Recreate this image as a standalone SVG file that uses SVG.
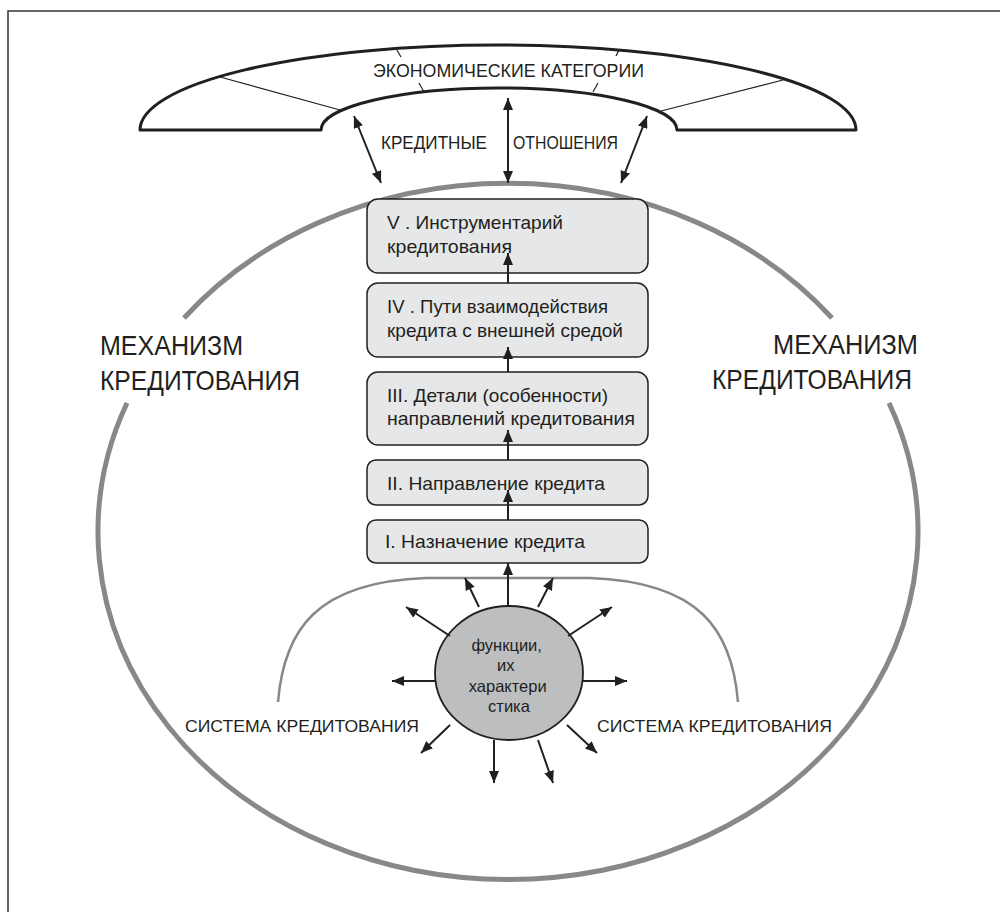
<svg xmlns="http://www.w3.org/2000/svg" width="1000" height="912" viewBox="0 0 1000 912">
<style>
.t{font-family:"Liberation Sans",Arial,sans-serif;fill:#231f20}
.box{fill:#e6e7e8;stroke:#231f20;stroke-width:1.5}
.ln{stroke:#231f20;stroke-width:2;fill:none}
.thin{stroke:#231f20;stroke-width:1.2;fill:none}
.gray{stroke:#87888a;fill:none}
</style>
<defs>
<marker id="ah" viewBox="0 0 12 10" refX="12" refY="5" markerWidth="12" markerHeight="10" markerUnits="userSpaceOnUse" orient="auto-start-reverse">
<path d="M0,0 L12,5 L0,10 Z" fill="#231f20"/>
</marker>
</defs>
<rect width="1000" height="912" fill="#fff"/>
<g id="frame">
<path d="M8,912 L8,11 L1000,11" fill="none" stroke="#333" stroke-width="1.5"/>
</g>
<g id="categories">
<path d="M140,130 A358,85 0 0 1 856,130 L677,130 A178,42 0 0 0 321,130 Z" fill="#fff" stroke="#231f20" stroke-width="3" stroke-linejoin="round"/>
<line class="thin" x1="220" y1="77" x2="340" y2="110"/>
<line class="thin" x1="783" y1="80" x2="661" y2="111"/>
<line class="thin" x1="397" y1="50" x2="401" y2="57"/>
<line class="thin" x1="619" y1="50" x2="616" y2="56"/>
<line class="thin" x1="419" y1="83" x2="424" y2="92"/>
<line class="thin" x1="598" y1="83" x2="593" y2="92"/>
<text class="t" x="373" y="77" font-size="19" textLength="271" lengthAdjust="spacingAndGlyphs">ЭКОНОМИЧЕСКИЕ КАТЕГОРИИ</text>
</g>
<g id="relations">
<text class="t" y="149" font-size="19"><tspan x="381" textLength="106" lengthAdjust="spacingAndGlyphs">КРЕДИТНЫЕ</tspan><tspan x="513" textLength="105" lengthAdjust="spacingAndGlyphs">ОТНОШЕНИЯ</tspan></text>
</g>
<g id="mechanism">
<path class="gray" stroke-width="5" d="M184,318 A410,348 0 0 1 832,318 M889,403 A410,348 0 1 1 127,403"/>
<text class="t" x="100" y="355" font-size="28" textLength="143" lengthAdjust="spacingAndGlyphs">МЕХАНИЗМ</text>
<text class="t" x="100" y="390" font-size="28" textLength="200" lengthAdjust="spacingAndGlyphs">КРЕДИТОВАНИЯ</text>
<text class="t" x="773" y="354" font-size="28" textLength="145" lengthAdjust="spacingAndGlyphs">МЕХАНИЗМ</text>
<text class="t" x="712" y="389" font-size="28" textLength="200" lengthAdjust="spacingAndGlyphs">КРЕДИТОВАНИЯ</text>
</g>
<g id="system">
<path class="gray" stroke-width="2.5" d="M278,702 C284,630 316,582 426,578 L590,578 C700,582 732,630 738,702"/>
<text class="t" x="185" y="732" font-size="17" textLength="234" lengthAdjust="spacingAndGlyphs">СИСТЕМА КРЕДИТОВАНИЯ</text>
<text class="t" x="597" y="732" font-size="17" textLength="235" lengthAdjust="spacingAndGlyphs">СИСТЕМА КРЕДИТОВАНИЯ</text>
</g>
<g id="box5">
<rect class="box" x="367" y="199" width="281" height="74" rx="11"/>
<text class="t" x="387" y="229" font-size="18.5" textLength="176" lengthAdjust="spacingAndGlyphs">V . Инструментарий</text>
<text class="t" x="387" y="253" font-size="18.5" textLength="125" lengthAdjust="spacingAndGlyphs">кредитования</text>
</g>
<g id="box4">
<rect class="box" x="367" y="283" width="281" height="74" rx="11"/>
<text class="t" x="387" y="313" font-size="18.5" textLength="221" lengthAdjust="spacingAndGlyphs">IV . Пути взаимодействия</text>
<text class="t" x="387" y="337" font-size="18.5" textLength="236" lengthAdjust="spacingAndGlyphs">кредита с внешней средой</text>
</g>
<g id="box3">
<rect class="box" x="367" y="372" width="281" height="73" rx="11"/>
<text class="t" x="387" y="402" font-size="18.5" textLength="221" lengthAdjust="spacingAndGlyphs">III.  Детали (особенности)</text>
<text class="t" x="387" y="425" font-size="18.5" textLength="248" lengthAdjust="spacingAndGlyphs">направлений кредитования</text>
</g>
<g id="box2">
<rect class="box" x="367" y="460" width="281" height="45" rx="9"/>
<text class="t" x="387" y="490" font-size="18.5" textLength="218" lengthAdjust="spacingAndGlyphs">II.  Направление кредита</text>
</g>
<g id="box1">
<rect class="box" x="367" y="520" width="281" height="43" rx="9"/>
<text class="t" x="385" y="548" font-size="18.5" textLength="200" lengthAdjust="spacingAndGlyphs">I.  Назначение кредита</text>
</g>
<g id="functions">
<ellipse cx="509" cy="673" rx="74" ry="67" fill="#bcbec0" stroke="#231f20" stroke-width="1.8"/>
<text class="t" text-anchor="middle" font-size="16.5">
<tspan x="509" y="651">функции,</tspan>
<tspan x="508" y="671">их</tspan>
<tspan x="510" y="692">характери</tspan>
<tspan x="509" y="712">стика</tspan>
</text>
</g>
<g id="connectors">
<line class="ln" x1="354" y1="116" x2="381" y2="183" marker-start="url(#ah)" marker-end="url(#ah)"/>
<line class="ln" x1="508" y1="98" x2="508" y2="183" marker-start="url(#ah)" marker-end="url(#ah)"/>
<line class="ln" x1="647" y1="116" x2="621" y2="183" marker-start="url(#ah)" marker-end="url(#ah)"/>
<line class="ln" x1="508" y1="283" x2="508" y2="253" marker-end="url(#ah)"/>
<line class="ln" x1="508" y1="372" x2="508" y2="347" marker-end="url(#ah)"/>
<line class="ln" x1="508" y1="460" x2="508" y2="430" marker-end="url(#ah)"/>
<line class="ln" x1="508" y1="520" x2="508" y2="490" marker-end="url(#ah)"/>
<line class="ln" x1="508" y1="606" x2="508" y2="563" marker-end="url(#ah)"/>
<line class="ln" x1="479" y1="607" x2="465" y2="578" marker-end="url(#ah)"/>
<line class="ln" x1="538" y1="607" x2="553" y2="578" marker-end="url(#ah)"/>
<line class="ln" x1="450" y1="636" x2="406" y2="607" marker-end="url(#ah)"/>
<line class="ln" x1="568" y1="636" x2="612" y2="607" marker-end="url(#ah)"/>
<line class="ln" x1="435" y1="681" x2="392" y2="681" marker-end="url(#ah)"/>
<line class="ln" x1="583" y1="681" x2="627" y2="681" marker-end="url(#ah)"/>
<line class="ln" x1="450" y1="725" x2="421" y2="753" marker-end="url(#ah)"/>
<line class="ln" x1="567" y1="725" x2="597" y2="753" marker-end="url(#ah)"/>
<line class="ln" x1="494" y1="740" x2="494" y2="783" marker-end="url(#ah)"/>
<line class="ln" x1="538" y1="740" x2="553" y2="783" marker-end="url(#ah)"/>
</g>
</svg>
